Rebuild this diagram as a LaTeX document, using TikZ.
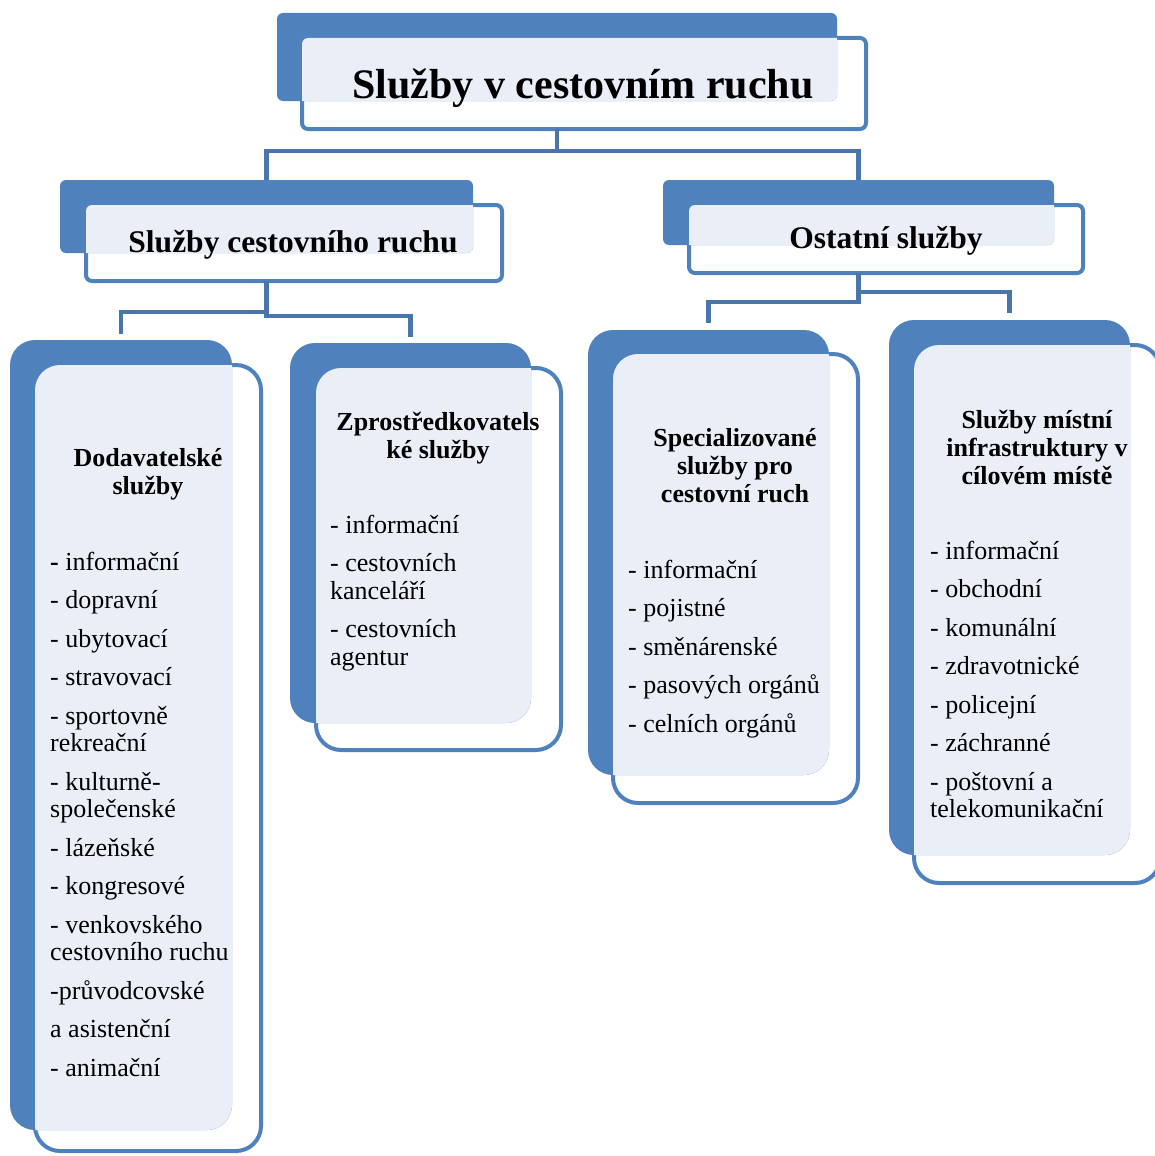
\documentclass[tikz,border=0pt]{standalone}
\usepackage{fontspec}
\setmainfont{Liberation Serif}
\usepackage{xcolor}
\usetikzlibrary{fit}

\definecolor{cardblue}{HTML}{4F81BD}
\definecolor{cardlight}{HTML}{EAEFF7}
\definecolor{linkblue}{HTML}{4A74AC}

\begin{document}
\begin{tikzpicture}[
    x=1pt, y=-1pt,
    backbox/.style={fill=cardblue, inner sep=0pt, outer sep=0pt, rounded corners=#1},
    frontbox/.style={draw=cardblue, line width=4pt, fill=white, inner sep=0pt, outer sep=0pt, rounded corners=#1},
    glow/.style={fill=cardlight, rounded corners=#1},
    conn/.style={draw=linkblue, line width=4.5pt},
    head/.style={font=\fontsize{26}{28}\selectfont\bfseries, align=center, inner sep=0pt, anchor=north},
    items/.style={font=\fontsize{26}{27.5}\selectfont, align=left, inner sep=0pt, anchor=north west}
]

\useasboundingbox[fill=white] (0,0) rectangle (1154,1156);

% Level 1: main box
\node[frontbox=6pt, fit={(302,38) (866,129)}] (topF) {};
\node[backbox=6pt, fit={(277,13) (837,101)}] (topB) {};
\begin{scope}
  \clip[rounded corners=6pt] (topB.north west) rectangle (topB.south east);
  \fill[glow=6pt] (topF.north west) rectangle (topF.south east);
\end{scope}
\node[font=\fontsize{42}{46}\selectfont\bfseries, anchor=base] (topT) at (583,98) {Služby v cestovním ruchu};

% Level 2: left and right
\node[frontbox=6pt, fit={(86,205) (502,281)}] (lF) {};
\node[backbox=6pt, fit={(60,180) (473,253)}] (lB) {};
\begin{scope}
  \clip[rounded corners=6pt] (lB.north west) rectangle (lB.south east);
  \fill[glow=6pt] (lF.north west) rectangle (lF.south east);
\end{scope}
\node[font=\fontsize{31.5}{34}\selectfont\bfseries, anchor=base] (lT) at (293,252) {Služby cestovního ruchu};

\node[frontbox=6pt, fit={(689,205) (1083,273)}] (rF) {};
\node[backbox=6pt, fit={(663,180) (1054,245)}] (rB) {};
\begin{scope}
  \clip[rounded corners=6pt] (rB.north west) rectangle (rB.south east);
  \fill[glow=6pt] (rF.north west) rectangle (rF.south east);
\end{scope}
\node[font=\fontsize{31.5}{34}\selectfont\bfseries, anchor=base] (rT) at (886,248) {Ostatní služby};

% Level 3: the four cards
\node[frontbox=25pt, fit={(35,365) (261,1151)}] (aF) {};
\node[backbox=25pt, fit={(10,340) (232,1130)}] (aB) {};
\begin{scope}
  \clip[rounded corners=25pt] (aB.north west) rectangle (aB.south east);
  \fill[glow=25pt] (aF.north west) rectangle (aF.south east);
\end{scope}

\node[frontbox=25pt, fit={(316,368) (561,750)}] (bF) {};
\node[backbox=25pt, fit={(290,343) (531,723)}] (bB) {};
\begin{scope}
  \clip[rounded corners=25pt] (bB.north west) rectangle (bB.south east);
  \fill[glow=25pt] (bF.north west) rectangle (bF.south east);
\end{scope}

\node[frontbox=25pt, fit={(613,354) (858,803)}] (cF) {};
\node[backbox=25pt, fit={(588,330) (829,775)}] (cB) {};
\begin{scope}
  \clip[rounded corners=25pt] (cB.north west) rectangle (cB.south east);
  \fill[glow=25pt] (cF.north west) rectangle (cF.south east);
\end{scope}

\node[frontbox=25pt, fit={(914,345) (1160,883)}] (dF) {};
\node[backbox=25pt, fit={(889,320) (1130,855)}] (dB) {};
\begin{scope}
  \clip[rounded corners=25pt] (dB.north west) rectangle (dB.south east);
  \fill[glow=25pt] (dF.north west) rectangle (dF.south east);
\end{scope}

% Card texts
\node[head] (aT) at (148,446.4) {\strut Dodavatelské\\služby};
\node[items] (aL) at (50,550.75) {\strut{\bfseries -} informační\\[11pt]- dopravní\\[11pt]- ubytovací\\[11pt]- stravovací\\[11pt]- sportovně\\rekreační\\[11pt]- kulturně-\\společenské\\[11pt]- lázeňské\\[11pt]- kongresové\\[11pt]- venkovského\\cestovního ruchu\\[11pt]-průvodcovské\\[11pt]a asistenční\\[11pt]- animační};

\node[head] (bT) at (438,410.4) {\strut Zprostředkovatels\\ké služby};
\node[items] (bL) at (330,513.75) {\strut- informační\\[11pt]- cestovních\\kanceláří\\[11pt]- cestovních\\agentur};

\node[head] (cT) at (735,426.4) {\strut Specializované\\služby pro\\cestovní ruch};
\node[items] (cL) at (628,558.75) {\strut- informační\\[11pt]- pojistné\\[11pt]- směnárenské\\[11pt]- pasových orgánů\\[11pt]- celních orgánů};

\node[head] (dT) at (1037,408.4) {\strut Služby místní\\infrastruktury v\\cílovém místě};
\node[items] (dL) at (930,539.75) {\strut- informační\\[11pt]- obchodní\\[11pt]- komunální\\[11pt]- zdravotnické\\[11pt]- policejní\\[11pt]- záchranné\\[11pt]- poštovní a\\telekomunikační};

% Connectors
\draw[conn] (topB.south |- topF.south) -- ++(0,22) -| (lB.north);
\draw[conn] (topB.south |- topF.south) -- ++(0,22) -| (rB.north);
\draw[conn, shorten >=6pt] (lB.south |- lF.south) -- ++(0,31) -| (aB.north);
\draw[conn, shorten >=6pt] (lB.south |- lF.south) -- ++(0,35) -| (bB.north);
\draw[conn, shorten >=7pt] (rB.south |- rF.south) -- ++(0,29) -| (cB.north);
\draw[conn, shorten >=7pt] (rB.south |- rF.south) -- ++(0,19) -| (dB.north);

\end{tikzpicture}
\end{document}
